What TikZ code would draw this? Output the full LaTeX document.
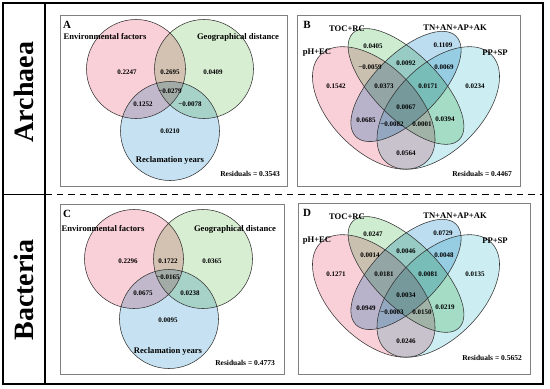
\documentclass[tikz,border=0pt]{standalone}
\usepackage{fontspec}
\setmainfont{Liberation Serif}
\usepackage{tikz}
\definecolor{envpink}{RGB}{250,208,216}
\definecolor{geogreen}{RGB}{216,238,210}
\definecolor{recblue}{RGB}{198,226,242}
\definecolor{tocgreen}{RGB}{206,236,208}
\definecolor{tnblue}{RGB}{188,220,240}
\definecolor{ppcyan}{RGB}{204,238,242}

\begin{document}
\begin{tikzpicture}[x=1pt, y=-1pt,
  cat/.style={font=\fontsize{8.6}{9}\selectfont\bfseries, inner sep=1pt},
  num/.style={font=\fontsize{7}{8}\selectfont\bfseries, inner sep=1pt},
  res/.style={font=\fontsize{7.5}{8}\selectfont\bfseries, anchor=east, inner sep=1pt},
  tag/.style={font=\fontsize{11}{12}\selectfont\bfseries, inner sep=1pt},
  side/.style={font=\fontsize{28}{30}\selectfont\bfseries, rotate=90, inner sep=0pt},
  panel/.style={draw=black!50, line width=0.9pt},
  ring/.style={draw=black!80, line width=0.55pt},
  tint/.style={blend mode=multiply}]
\useasboundingbox (0,0) rectangle (550,389);
\draw[line width=1.1pt] (3,3) rectangle (543,384);
\draw[line width=1.1pt] (45,3) -- (45,384);
\draw[line width=1.1pt] (3,194.5) -- (45,194.5);
\draw[line width=1.1pt, dash pattern=on 6.5pt off 5pt] (45,194.5) -- (543,194.5);
\node[side] (arch) at (24,92) {Archaea};
\node[side] (bact) at (24,290) {Bacteria};

\draw[panel] (60,15) rectangle (287,186);
\fill[tint, envpink] (136,69) circle (49.5pt);
\fill[tint, geogreen] (204,69) circle (49.5pt);
\fill[tint, recblue] (170,131) circle (49.5pt);
\draw[ring] (136,69) circle (49.5pt) (204,69) circle (49.5pt) (170,131) circle (49.5pt);
\node[tag] (A) at (67,25) {A};
\node[cat] (envA) at (105,37) {Environmental factors};
\node[cat] (geoA) at (238,37) {Geographical distance};
\node[cat] (recA) at (170,160) {Reclamation years};
\node[num] (a1) at (127,72) {0.2247};
\node[num] (a2) at (170,72) {0.2695};
\node[num] (a3) at (213,72) {0.0409};
\node[num] (a4) at (170,91) {−0.0279};
\node[num] (a5) at (143,104) {0.1252};
\node[num] (a6) at (190,104) {−0.0078};
\node[num] (a7) at (170,131) {0.0210};
\node[res] (resA) at (281,174) {Residuals = 0.3543};

\draw[panel] (60,204) rectangle (284,374);
\fill[tint, envpink] (134,259) circle (49.5pt);
\fill[tint, geogreen] (203,259) circle (49.5pt);
\fill[tint, recblue] (169,319) circle (49.5pt);
\draw[ring] (134,259) circle (49.5pt) (203,259) circle (49.5pt) (169,319) circle (49.5pt);
\node[tag] (C) at (67,214) {C};
\node[cat] (envC) at (103,229) {Environmental factors};
\node[cat] (geoC) at (235,229) {Geographical distance};
\node[cat] (recC) at (168,351) {Reclamation years};
\node[num] (c1) at (128,261) {0.2296};
\node[num] (c2) at (168,261) {0.1722};
\node[num] (c3) at (212,261) {0.0365};
\node[num] (c4) at (168,277) {−0.0165};
\node[num] (c5) at (143,293) {0.0675};
\node[num] (c6) at (190,293) {0.0238};
\node[num] (c7) at (168,320) {0.0095};
\node[res] (resC) at (276,363) {Residuals = 0.4773};

\draw[panel] (297,15) rectangle (520,186);
\begin{scope}[shift={(298.5,209)}, x=215pt, y=215pt]
\fill[tint, envpink, rotate around={135:(0.35,0.47)}] (0.35,0.47) ellipse (0.35 and 0.2);
\fill[tint, ppcyan, rotate around={45:(0.65,0.47)}] (0.65,0.47) ellipse (0.35 and 0.2);
\fill[tint, tnblue, rotate around={45:(0.5,0.57)}] (0.5,0.57) ellipse (0.33 and 0.15);
\fill[tint, tocgreen, rotate around={135:(0.5,0.57)}] (0.5,0.57) ellipse (0.35 and 0.15);
\draw[ring, rotate around={135:(0.35,0.47)}] (0.35,0.47) ellipse (0.35 and 0.2);
\draw[ring, rotate around={45:(0.65,0.47)}] (0.65,0.47) ellipse (0.35 and 0.2);
\draw[ring, rotate around={45:(0.5,0.57)}] (0.5,0.57) ellipse (0.33 and 0.15);
\draw[ring, rotate around={135:(0.5,0.57)}] (0.5,0.57) ellipse (0.35 and 0.15);
\end{scope}
\node[tag] (B) at (307,25) {B};
\node[cat] (phB) at (317,53) {pH+EC};
\node[cat] (tocB) at (347,29) {TOC+RC};
\node[cat] (tnB) at (455,28) {TN+AN+AP+AK};
\node[cat] (ppB) at (495,53) {PP+SP};
\node[num] (b1) at (373,46) {0.0405};
\node[num] (b2) at (406,63) {0.0092};
\node[num] (b3) at (443,45) {0.1109};
\node[num] (b4) at (370,67) {−0.0059};
\node[num] (b5) at (384,86) {0.0373};
\node[num] (b6) at (406,107) {0.0067};
\node[num] (b7) at (428,86) {0.0171};
\node[num] (b8) at (444,67) {0.0069};
\node[num] (b9) at (336,86) {0.1542};
\node[num] (b10) at (366,120) {0.0685};
\node[num] (b11) at (392,124) {−0.0082};
\node[num] (b12) at (406,153) {0.0564};
\node[num] (b13) at (422,124) {0.0001};
\node[num] (b14) at (445,119) {0.0394};
\node[num] (b15) at (475,86) {0.0234};
\node[res] (resB) at (513,174) {Residuals = 0.4467};

\draw[panel] (298,203) rectangle (530,374);
\begin{scope}[shift={(298.5,397)}, x=215pt, y=215pt]
\fill[tint, envpink, rotate around={135:(0.35,0.47)}] (0.35,0.47) ellipse (0.35 and 0.2);
\fill[tint, ppcyan, rotate around={45:(0.65,0.47)}] (0.65,0.47) ellipse (0.35 and 0.2);
\fill[tint, tnblue, rotate around={45:(0.5,0.57)}] (0.5,0.57) ellipse (0.33 and 0.15);
\fill[tint, tocgreen, rotate around={135:(0.5,0.57)}] (0.5,0.57) ellipse (0.35 and 0.15);
\draw[ring, rotate around={135:(0.35,0.47)}] (0.35,0.47) ellipse (0.35 and 0.2);
\draw[ring, rotate around={45:(0.65,0.47)}] (0.65,0.47) ellipse (0.35 and 0.2);
\draw[ring, rotate around={45:(0.5,0.57)}] (0.5,0.57) ellipse (0.33 and 0.15);
\draw[ring, rotate around={135:(0.5,0.57)}] (0.5,0.57) ellipse (0.35 and 0.15);
\end{scope}
\node[tag] (D) at (307,213) {D};
\node[cat] (phD) at (317,241) {pH+EC};
\node[cat] (tocD) at (347,217) {TOC+RC};
\node[cat] (tnD) at (455,216) {TN+AN+AP+AK};
\node[cat] (ppD) at (495,241) {PP+SP};
\node[num] (d1) at (373,234) {0.0247};
\node[num] (d2) at (406,251) {0.0046};
\node[num] (d3) at (443,233) {0.0729};
\node[num] (d4) at (370,255) {0.0014};
\node[num] (d5) at (384,274) {0.0181};
\node[num] (d6) at (406,295) {0.0034};
\node[num] (d7) at (428,274) {0.0081};
\node[num] (d8) at (444,255) {0.0048};
\node[num] (d9) at (336,274) {0.1271};
\node[num] (d10) at (366,308) {0.0949};
\node[num] (d11) at (392,312) {−0.0003};
\node[num] (d12) at (406,341) {0.0246};
\node[num] (d13) at (422,312) {0.0150};
\node[num] (d14) at (445,307) {0.0219};
\node[num] (d15) at (475,274) {0.0135};
\node[res] (resD) at (523,358) {Residuals = 0.5652};
\end{tikzpicture}
\end{document}
